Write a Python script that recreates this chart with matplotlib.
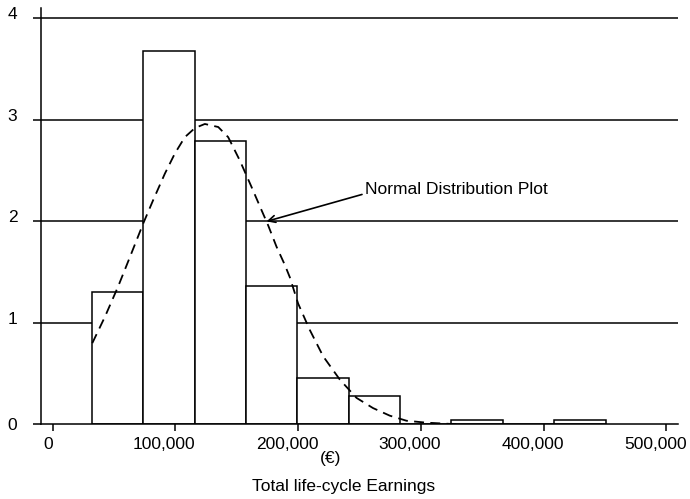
import matplotlib
matplotlib.use("Agg")
import matplotlib.pyplot as plt
import matplotlib.transforms as mtransforms
import numpy as np

plt.rcParams['font.family'] = ['Liberation Sans', 'DejaVu Sans']

# histogram bins (euro) and bar heights
bin_edges = [32000, 73850, 115700, 157550, 199400, 241250, 283100,
             324950, 366800, 408650, 450500]
bar_heights = [1.30, 3.68, 2.79, 1.36, 0.46, 0.28, 0.0, 0.04, 0.0, 0.04]

# normal distribution plot
curve_x = [32300, 42600, 53400, 63000, 73800, 81900, 91400, 99600, 107700,
           115900, 124000, 134900, 143000, 152500, 162000, 170200, 175600,
           182400, 189200, 193200, 200000, 209500, 220400, 234000, 247600,
           261000, 274700, 288300, 304600, 320800, 330000]
curve_y = [0.80, 1.06, 1.36, 1.65, 1.98, 2.21, 2.47, 2.67, 2.83,
           2.92, 2.96, 2.93, 2.83, 2.60, 2.34, 2.11, 1.96,
           1.75, 1.57, 1.45, 1.19, 0.93, 0.67, 0.44, 0.26,
           0.16, 0.085, 0.035, 0.016, 0.006, 0.0]

x_ticks = [0, 100000, 200000, 300000, 400000, 500000]
x_ticklabels = ['0', '100,000', '200,000', '300,000', '400,000', '500,000']
y_ticks = [0, 1, 2, 3, 4]

fig = plt.figure(figsize=(6.9, 4.99), dpi=100)
ax = fig.add_axes([41 / 690, 74.7 / 499, 637 / 690, 416 / 499])

lw = 1.1
for y in y_ticks[1:]:
    ax.axhline(y, color='black', lw=lw, zorder=1)

edges = np.array(bin_edges)
ax.bar(edges[:-1], bar_heights, width=np.diff(edges), align='edge',
       facecolor='white', edgecolor='black', linewidth=lw, zorder=2)

ax.plot(curve_x, curve_y, color='black', lw=1.3, linestyle=(0, (5.5, 3.5)), zorder=3)

ax.annotate('Normal Distribution Plot', xy=(174300, 2.0), xytext=(254300, 2.31),
            ha='left', va='center', fontsize=12.5,
            arrowprops=dict(arrowstyle='->', color='black', lw=1.2,
                            relpos=(0, 0.25), shrinkA=0, shrinkB=0),
            zorder=4)

ax.set_xlim(-9500, 509500)
ax.set_ylim(0, 4.1)

ax.set_xticks(x_ticks)
ax.set_xticklabels(x_ticklabels, fontsize=12.5)
ax.set_yticks(y_ticks)
ax.set_yticklabels([str(v) for v in y_ticks], fontsize=12.5)

ax.tick_params(axis='x', direction='out', length=5, width=lw, pad=4)
ax.tick_params(axis='y', direction='out', length=6, width=lw, pad=11)

# labels 1..4 sit a little above their lines
for lab in ax.get_yticklabels()[1:]:
    lab.set_transform(lab.get_transform() +
                      mtransforms.ScaledTranslation(0, 5 / 100, fig.dpi_scale_trans))

# x labels sit a little left of their ticks
for i, lab in enumerate(ax.get_xticklabels()):
    dx = -4 if i == 0 else -11
    lab.set_transform(lab.get_transform() +
                      mtransforms.ScaledTranslation(dx / 100, 0, fig.dpi_scale_trans))

for side in ['top', 'right']:
    ax.spines[side].set_visible(False)
for side in ['left', 'bottom']:
    ax.spines[side].set_linewidth(lw)
ax.spines['bottom'].set_zorder(5)

fig.text(331 / 690, 1 - 458 / 499, '(€)', ha='center', va='center', fontsize=12.5)
fig.text(344 / 690, 1 - 486.7 / 499, 'Total life-cycle Earnings',
         ha='center', va='center', fontsize=12.5)

fig.savefig('out.png', dpi=100)
